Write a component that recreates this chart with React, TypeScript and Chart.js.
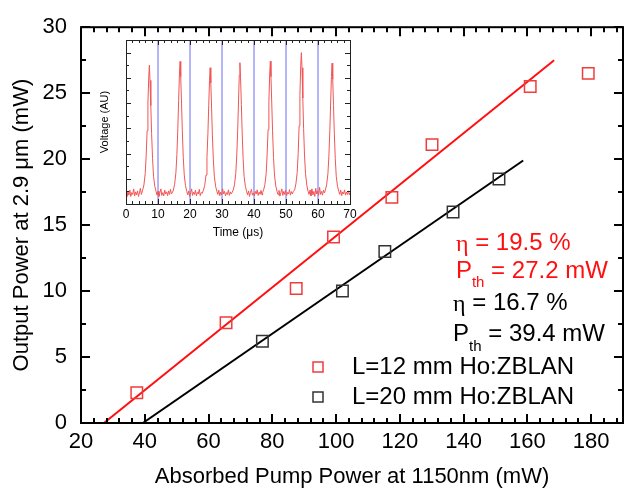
import React, { useEffect, useRef } from "react";
import { Chart, registerables } from "chart.js";

Chart.register(...registerables);

const FONT = "'Liberation Sans', Arial, Helvetica, sans-serif";

// ---------- main chart data ----------
const pumpRed = [37.5, 65.5, 87.5, 99.2, 117.5, 130.1, 160.9, 179.1];
const powerRed = [2.3, 7.6, 10.2, 14.1, 17.1, 21.1, 25.5, 26.5];
const pumpBlack = [76.9, 102.0, 115.3, 136.7, 151.1];
const powerBlack = [6.2, 10.0, 13.0, 16.0, 18.5];
const fitRedX = [27.2, 168.4];
const fitRedY = [0, 27.5];
const fitBlackX = [39.4, 158.7];
const fitBlackY = [0, 19.9];
const xTickValues = [20, 40, 60, 80, 100, 120, 140, 160, 180];
const yTickValues = [0, 5, 10, 15, 20, 25, 30];
const legendLabels = ["L=12 mm Ho:ZBLAN", "L=20 mm Ho:ZBLAN"];
const etaLabels = [" = 19.5 %", " = 16.7 %"];
const pthLabels = [" = 27.2 mW", " = 39.4 mW"];
const xTitle = "Absorbed Pump Power at 1150nm (mW)";
const yTitle = "Output Power at 2.9 \u03bcm (mW)";

// ---------- inset data ----------
const insetXTicks = [0, 10, 20, 30, 40, 50, 60, 70];
const insetMarkers = [10, 20, 30, 40, 50, 60];
const insetXTitle = "Time (\u03bcs)";
const insetYTitle = "Voltage (AU)";
const trace: [number, number][] = [
  [0, 0.42], [0.3, 0.3], [0.6, 0.5], [0.9, 0.35], [1.2, 0.55], [1.5, 0.3], [1.8, 0.45], [2.1, 0.38], [2.4, 0.6], [2.7, 0.32], [3.0, 0.48], [3.3, 0.36], [3.6, 0.52], [3.9, 0.3], [4.2, 0.44], [4.5, 0.62], [4.8, 0.38],
  [5.2, 0.55], [5.6, 0.75], [6.0, 1.2], [6.3, 1.9], [6.6, 2.9], [6.85, 4.0], [7.1, 5.0], [7.3, 5.5], [7.5, 4.9], [7.75, 3.9], [8.0, 2.8], [8.3, 1.8], [8.6, 1.1], [9.0, 0.7], [9.4, 0.5],
  [9.7, 0.35], [10.0, 0.5], [10.3, 0.3], [10.6, 0.46], [10.9, 0.6], [11.2, 0.34], [11.5, 0.45], [11.8, 0.32], [12.1, 0.55], [12.4, 0.4], [12.7, 0.48], [13.0, 0.33], [13.3, 0.52], [13.6, 0.38], [13.9, 0.58], [14.2, 0.4], [14.5, 0.45],
  [14.8, 0.55], [15.2, 0.78], [15.6, 1.25], [15.9, 1.95], [16.2, 3.0], [16.45, 4.1], [16.7, 5.15], [16.9, 5.65], [17.1, 5.05], [17.35, 4.0], [17.6, 2.9], [17.9, 1.85], [18.2, 1.15], [18.6, 0.72], [19.0, 0.5],
  [19.3, 0.36], [19.6, 0.52], [19.9, 0.3], [20.2, 0.44], [20.5, 0.6], [20.8, 0.34], [21.1, 0.47], [21.4, 0.38], [21.7, 0.55], [22.0, 0.32], [22.3, 0.46], [22.6, 0.4], [22.9, 0.58], [23.2, 0.33], [23.5, 0.45], [23.8, 0.42],
  [24.2, 0.55], [24.6, 0.74], [25.0, 1.15], [25.3, 1.85], [25.6, 2.8], [25.85, 3.9], [26.1, 4.9], [26.3, 5.4], [26.5, 4.8], [26.75, 3.8], [27.0, 2.7], [27.3, 1.75], [27.6, 1.1], [28.0, 0.7], [28.4, 0.5],
  [28.7, 0.38], [29.0, 0.55], [29.3, 0.33], [29.6, 0.47], [29.9, 0.36], [30.2, 0.6], [30.5, 0.4], [30.8, 0.5], [31.1, 0.32], [31.4, 0.45], [31.7, 0.38], [32.0, 0.56], [32.3, 0.34], [32.6, 0.48], [32.9, 0.4], [33.2, 0.47],
  [33.5, 0.55], [33.9, 0.76], [34.3, 1.2], [34.6, 1.9], [34.9, 2.9], [35.15, 4.0], [35.4, 5.1], [35.6, 5.6], [35.8, 5.0], [36.05, 3.95], [36.3, 2.85], [36.6, 1.8], [36.9, 1.1], [37.3, 0.7], [37.7, 0.5],
  [38.0, 0.36], [38.3, 0.52], [38.6, 0.3], [38.9, 0.46], [39.2, 0.58], [39.5, 0.35], [39.8, 0.44], [40.1, 0.32], [40.4, 0.5], [40.7, 0.4], [41.0, 0.56], [41.3, 0.34], [41.6, 0.47], [41.9, 0.38], [42.2, 0.54], [42.5, 0.36], [42.7, 0.46],
  [43.0, 0.55], [43.4, 0.77], [43.8, 1.2], [44.1, 1.95], [44.4, 2.95], [44.65, 4.05], [44.9, 5.15], [45.1, 5.66], [45.3, 5.05], [45.55, 4.0], [45.8, 2.9], [46.1, 1.85], [46.4, 1.15], [46.8, 0.72], [47.2, 0.5],
  [47.5, 0.37], [47.8, 0.54], [48.1, 0.31], [48.4, 0.46], [48.7, 0.6], [49.0, 0.34], [49.3, 0.5], [49.6, 0.38], [49.9, 0.55], [50.2, 0.33], [50.5, 0.46], [50.8, 0.4], [51.1, 0.57], [51.4, 0.35], [51.7, 0.49], [52.0, 0.4], [52.3, 0.5],
  [52.7, 0.56], [53.1, 0.8], [53.5, 1.25], [53.8, 2.0], [54.1, 3.1], [54.35, 4.3], [54.6, 5.5], [54.8, 6.0], [55.0, 5.4], [55.25, 4.2], [55.5, 3.0], [55.8, 1.9], [56.1, 1.2], [56.5, 0.75], [56.9, 0.5],
  [57.2, 0.38], [57.5, 0.55], [57.8, 0.32], [58.1, 0.6], [58.4, 0.36], [58.7, 0.5], [59.0, 0.3], [59.3, 0.62], [59.6, 0.4], [59.9, 0.52], [60.2, 0.34], [60.5, 0.66], [60.8, 0.38], [61.1, 0.5], [61.4, 0.35], [61.7, 0.55], [62.0, 0.44],
  [62.3, 0.55], [62.7, 0.76], [63.1, 1.2], [63.4, 1.9], [63.7, 2.9], [63.95, 4.0], [64.2, 5.05], [64.4, 5.58], [64.6, 4.95], [64.85, 3.9], [65.1, 2.8], [65.4, 1.8], [65.7, 1.1], [66.1, 0.7], [66.5, 0.5],
  [66.8, 0.38], [67.1, 0.55], [67.4, 0.33], [67.7, 0.48], [68.0, 0.4], [68.3, 0.56], [68.6, 0.35], [68.9, 0.47], [69.2, 0.38], [69.5, 0.52], [69.8, 0.36], [70.0, 0.45],
];

const RED = "#ff1010";
const RED_MARK = "#f03c3c";
const BLACK_MARK = "#333333";
const SERIF = "'Liberation Serif', 'DejaVu Serif', serif";

const mainDecor = {
  id: "mainDecor",
  afterDraw(chart: any) {
    const { ctx, chartArea: a, scales } = chart;
    const x = scales.x;
    const y = scales.y;
    ctx.save();
    ctx.strokeStyle = "#000";
    ctx.lineWidth = 2;
    ctx.strokeRect(a.left, a.top, a.right - a.left, a.bottom - a.top);
    ctx.beginPath();
    for (let v = 20; v <= 190.001; v += 4) {
      const px = Math.round(x.getPixelForValue(v));
      const major = Math.abs((v - 20) % 20) < 1e-6;
      const len = major ? 9 : 5;
      ctx.moveTo(px, a.bottom);
      ctx.lineTo(px, a.bottom - len);
      ctx.moveTo(px, a.top);
      ctx.lineTo(px, a.top + len);
    }
    for (let v = 0; v <= 30.001; v += 2.5) {
      const py = Math.round(y.getPixelForValue(v));
      const major = Math.abs(v % 5) < 1e-6;
      const len = major ? 9 : 5;
      ctx.moveTo(a.left, py);
      ctx.lineTo(a.left + len, py);
      ctx.moveTo(a.right, py);
      ctx.lineTo(a.right - len, py);
    }
    ctx.stroke();

    // annotations
    const rows = [
      { color: RED, eta: etaLabels[0], pth: pthLabels[0], xv: 137.6, ye: 13.6, yp: 11.5 },
      { color: "#000", eta: etaLabels[1], pth: pthLabels[1], xv: 136.7, ye: 9.05, yp: 6.7 },
    ];
    ctx.textAlign = "left";
    ctx.textBaseline = "middle";
    for (const r of rows) {
      const px = x.getPixelForValue(r.xv);
      ctx.fillStyle = r.color;
      const pe = y.getPixelForValue(r.ye);
      ctx.font = `24px ${SERIF}`;
      ctx.fillText("\u03b7", px, pe + 1);
      const wE = ctx.measureText("\u03b7").width;
      ctx.font = `24px ${FONT}`;
      ctx.fillText(r.eta, px + wE, pe);
      const py = y.getPixelForValue(r.yp);
      ctx.fillText("P", px, py);
      const wP = ctx.measureText("P").width;
      ctx.font = `15px ${FONT}`;
      ctx.fillText("th", px + wP, py + 12);
      const wT = ctx.measureText("th").width;
      ctx.font = `24px ${FONT}`;
      ctx.fillText(r.pth, px + wP + wT, py);
    }

    // legend
    const legendColors = [RED_MARK, BLACK_MARK];
    const lx = 318;
    const ly = [367, 397];
    legendLabels.forEach((lab, i) => {
      ctx.strokeStyle = legendColors[i];
      ctx.lineWidth = 1.5;
      ctx.strokeRect(lx - 5, ly[i] - 5, 10, 10);
      ctx.fillStyle = "#000";
      ctx.font = `24px ${FONT}`;
      ctx.fillText(lab, 352, ly[i]);
    });
    ctx.restore();
  },
};

const insetDecor = {
  id: "insetDecor",
  afterDraw(chart: any) {
    const { ctx, chartArea: a, scales } = chart;
    const x = scales.x;
    const y = scales.y;
    ctx.save();
    ctx.strokeStyle = "#222";
    ctx.lineWidth = 1;
    ctx.strokeRect(a.left + 0.5, a.top + 0.5, a.right - a.left, a.bottom - a.top);
    ctx.beginPath();
    for (let v = 0; v <= 70.001; v += 2) {
      const px = Math.round(x.getPixelForValue(v)) + 0.5;
      const len = Math.abs(v % 10) < 1e-6 ? 5 : 3;
      ctx.moveTo(px, a.bottom);
      ctx.lineTo(px, a.bottom - len);
      ctx.moveTo(px, a.top);
      ctx.lineTo(px, a.top + len);
    }
    for (let v = 0; v <= 6.5001; v += 0.5) {
      const py = Math.round(y.getPixelForValue(v)) + 0.5;
      const len = Math.abs(v % 1) < 1e-6 ? 5 : 3;
      ctx.moveTo(a.left, py);
      ctx.lineTo(a.left + len, py);
      ctx.moveTo(a.right, py);
      ctx.lineTo(a.right - len, py);
    }
    ctx.stroke();
    ctx.restore();
  },
};

export default function App() {
  const mainRef = useRef<HTMLCanvasElement>(null);
  const insetRef = useRef<HTMLCanvasElement>(null);

  useEffect(() => {
    const mainChart = new Chart(mainRef.current as HTMLCanvasElement, {
      type: "scatter",
      data: {
        datasets: [
          {
            label: legendLabels[0],
            data: pumpRed.map((v, i) => ({ x: v, y: powerRed[i] })),
            pointStyle: "rect",
            pointRadius: 8.1,
            borderColor: RED_MARK,
            backgroundColor: "rgba(0,0,0,0)",
            borderWidth: 1.5,
          },
          {
            label: legendLabels[1],
            data: pumpBlack.map((v, i) => ({ x: v, y: powerBlack[i] })),
            pointStyle: "rect",
            pointRadius: 8.1,
            borderColor: BLACK_MARK,
            backgroundColor: "rgba(0,0,0,0)",
            borderWidth: 1.5,
          },
          {
            label: "fit12",
            data: fitRedX.map((v, i) => ({ x: v, y: fitRedY[i] })),
            showLine: true,
            pointRadius: 0,
            borderColor: RED,
            borderWidth: 2,
          },
          {
            label: "fit20",
            data: fitBlackX.map((v, i) => ({ x: v, y: fitBlackY[i] })),
            showLine: true,
            pointRadius: 0,
            borderColor: "#000",
            borderWidth: 2,
          },
        ],
      },
      options: {
        animation: false,
        responsive: false,
        devicePixelRatio: 1,
        layout: { autoPadding: false, padding: { top: 22, right: 5, left: 0, bottom: 0 } },
        plugins: { legend: { display: false }, tooltip: { enabled: false } },
        scales: {
          x: {
            type: "linear",
            min: 20,
            max: 190,
            afterBuildTicks: (s: any) => {
              s.ticks = xTickValues.map((v) => ({ value: v }));
            },
            afterFit: (s: any) => {
              s.height = 71;
            },
            grid: { display: false, drawTicks: false },
            border: { display: false },
            ticks: { color: "#000", font: { family: FONT, size: 22 }, padding: 6, maxRotation: 0, autoSkip: false },
            title: {
              display: true,
              text: xTitle,
              color: "#000",
              font: { family: FONT, size: 22 },
              padding: { top: 0, bottom: 4 },
            },
          },
          y: {
            type: "linear",
            min: 0,
            max: 30,
            afterBuildTicks: (s: any) => {
              s.ticks = yTickValues.map((v) => ({ value: v }));
            },
            afterFit: (s: any) => {
              s.width = 81;
            },
            grid: { display: false, drawTicks: false },
            border: { display: false },
            ticks: { color: "#000", font: { family: FONT, size: 22 }, padding: 14, autoSkip: false },
            title: {
              display: true,
              text: yTitle,
              color: "#000",
              font: { family: FONT, size: 22 },
              padding: { top: 9, bottom: 0 },
            },
          },
        },
      },
      plugins: [mainDecor],
    } as any);

    const insetChart = new Chart(insetRef.current as HTMLCanvasElement, {
      type: "scatter",
      data: {
        datasets: [
          {
            label: "trace",
            data: trace.map(([t, v]) => ({ x: t, y: v })),
            showLine: true,
            pointRadius: 0,
            borderColor: "#f25555",
            borderWidth: 1,
          },
          ...insetMarkers.map((t) => ({
            label: "m" + t,
            data: [
              { x: t, y: 0 },
              { x: t, y: 6.5 },
            ],
            showLine: true,
            pointRadius: 0,
            borderColor: "#6a6af5",
            borderWidth: 1,
          })),
        ],
      },
      options: {
        animation: false,
        responsive: false,
        devicePixelRatio: 1,
        layout: { autoPadding: false, padding: { top: 8, right: 15, left: 0, bottom: 0 } },
        plugins: { legend: { display: false }, tooltip: { enabled: false } },
        scales: {
          x: {
            type: "linear",
            min: 0,
            max: 70,
            afterBuildTicks: (s: any) => {
              s.ticks = insetXTicks.map((v) => ({ value: v }));
            },
            afterFit: (s: any) => {
              s.height = 43;
            },
            grid: { display: false, drawTicks: false },
            border: { display: false },
            ticks: { color: "#000", font: { family: FONT, size: 12 }, padding: 3, maxRotation: 0, autoSkip: false },
            title: {
              display: true,
              text: insetXTitle,
              color: "#000",
              font: { family: FONT, size: 12 },
              padding: { top: 0, bottom: 7 },
            },
          },
          y: {
            type: "linear",
            min: 0,
            max: 6.5,
            afterFit: (s: any) => {
              s.width = 36;
            },
            grid: { display: false, drawTicks: false },
            border: { display: false },
            ticks: { display: false },
            title: {
              display: true,
              text: insetYTitle,
              color: "#000",
              font: { family: FONT, size: 11 },
              padding: { top: 8, bottom: 0 },
            },
          },
        },
      },
      plugins: [insetDecor],
    } as any);

    return () => {
      mainChart.destroy();
      insetChart.destroy();
    };
  }, []);

  return (
    <div style={{ position: "fixed", left: 0, top: 0, width: 628, height: 494, background: "#fff" }}>
      <canvas ref={mainRef} width={628} height={494} style={{ position: "absolute", left: 0, top: 0 }} />
      <canvas ref={insetRef} width={275} height={215} style={{ position: "absolute", left: 90, top: 32 }} />
    </div>
  );
}
